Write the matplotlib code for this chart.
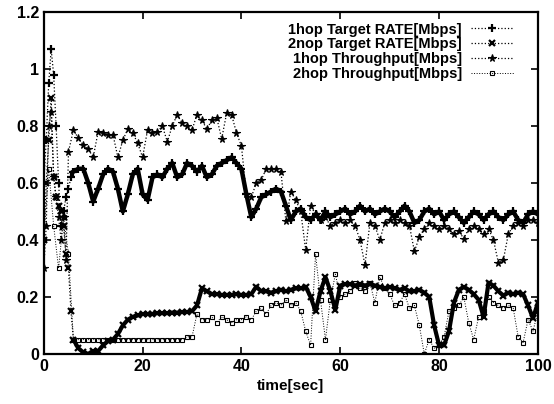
import matplotlib
matplotlib.use("Agg")
import matplotlib.pyplot as plt
from matplotlib.ticker import FuncFormatter

# ---------------- data ----------------
t_early = [0, 0.5, 1, 1.5, 2, 2.5, 3, 3.5, 4, 4.5, 5, 5.5]
t_main = list(range(6, 101))

hop1_target_t = t_early + t_main
hop1_target = [0.60, 0.75, 0.95, 1.07, 0.98, 0.80, 0.60, 0.45, 0.50, 0.55, 0.58, 0.62,
               0.64, 0.65, 0.65, 0.60, 0.535, 0.58, 0.63, 0.65, 0.64, 0.58,
               0.50, 0.56, 0.63, 0.65, 0.56, 0.54, 0.62, 0.63, 0.62, 0.65,
               0.67, 0.62, 0.63, 0.67, 0.66, 0.64, 0.66, 0.62, 0.63, 0.66,
               0.67, 0.68, 0.69, 0.67, 0.65, 0.56, 0.48, 0.51, 0.55, 0.56,
               0.57, 0.58, 0.57, 0.52, 0.47, 0.50, 0.51, 0.48, 0.47, 0.49,
               0.47, 0.50, 0.48, 0.49, 0.50, 0.51, 0.49, 0.50, 0.52, 0.50,
               0.51, 0.49, 0.50, 0.51, 0.50, 0.48, 0.50, 0.52, 0.50, 0.46,
               0.47, 0.50, 0.51, 0.49, 0.50, 0.47, 0.49, 0.50, 0.48, 0.46,
               0.48, 0.50, 0.49, 0.47, 0.49, 0.50, 0.48, 0.47, 0.49, 0.50,
               0.47, 0.46, 0.49, 0.50, 0.49]

hop2_target_t = t_early + t_main
hop2_target = [0.40, 0.60, 0.75, 0.90, 0.62, 0.55, 0.52, 0.50, 0.45, 0.35, 0.30, 0.15,
               0.05, 0.02, 0.005, 0.0, 0.01, 0.01, 0.03, 0.045, 0.05, 0.07,
               0.10, 0.12, 0.13, 0.135, 0.14, 0.14, 0.14, 0.143, 0.143, 0.143,
               0.145, 0.145, 0.147, 0.147, 0.15, 0.17, 0.23, 0.22, 0.21, 0.21,
               0.207, 0.207, 0.207, 0.21, 0.207, 0.207, 0.21, 0.236, 0.22, 0.22,
               0.215, 0.22, 0.225, 0.22, 0.225, 0.23, 0.23, 0.236, 0.20, 0.15,
               0.22, 0.27, 0.22, 0.155, 0.24, 0.245, 0.245, 0.24, 0.245, 0.24,
               0.245, 0.24, 0.235, 0.23, 0.235, 0.23, 0.225, 0.23, 0.22, 0.22,
               0.225, 0.215, 0.20, 0.10, 0.03, 0.03, 0.08, 0.18, 0.225, 0.235,
               0.225, 0.21, 0.19, 0.13, 0.25, 0.24, 0.22, 0.205, 0.215, 0.21,
               0.215, 0.21, 0.17, 0.125, 0.18]

hop1_thr_t = [0, 0.5, 1, 1.5, 2, 2.5, 3, 3.5, 4, 4.5] + list(range(5, 101))
hop1_thr = [0.30, 0.45, 0.80, 0.85, 0.62, 0.55, 0.48, 0.40, 0.48, 0.33,
            0.71, 0.786, 0.757, 0.733, 0.72, 0.69, 0.78, 0.776, 0.77, 0.77,
            0.69, 0.75, 0.79, 0.776, 0.74, 0.69, 0.786, 0.776, 0.78, 0.80,
            0.745, 0.80, 0.84, 0.81, 0.80, 0.786, 0.84, 0.82, 0.79, 0.82,
            0.83, 0.755, 0.845, 0.84, 0.776, 0.73, 0.56, 0.55, 0.60, 0.61,
            0.65, 0.65, 0.65, 0.64, 0.465, 0.57, 0.54, 0.50, 0.365, 0.52,
            0.49, 0.47, 0.48, 0.45, 0.46, 0.47, 0.46, 0.47, 0.45, 0.40,
            0.312, 0.46, 0.45, 0.40, 0.46, 0.47, 0.46, 0.47, 0.46, 0.45,
            0.36, 0.41, 0.44, 0.46, 0.45, 0.44, 0.45, 0.44, 0.42, 0.43,
            0.405, 0.44, 0.45, 0.44, 0.42, 0.44, 0.40, 0.32, 0.33, 0.42,
            0.45, 0.46, 0.45, 0.47, 0.47, 0.46]

hop2_thr_t = list(range(0, 101))
hop2_thr = [0.40, 0.65, 0.45, 0.30, 0.48, 0.35, 0.05, 0.05, 0.05, 0.05,
            0.05, 0.05, 0.05, 0.05, 0.05, 0.05, 0.05, 0.05, 0.05, 0.05,
            0.05, 0.05, 0.05, 0.05, 0.05, 0.05, 0.05, 0.05, 0.05, 0.06,
            0.06, 0.14, 0.12, 0.12, 0.13, 0.11, 0.13, 0.12, 0.11, 0.12,
            0.12, 0.13, 0.12, 0.15, 0.16, 0.14, 0.17, 0.18, 0.17, 0.19,
            0.17, 0.18, 0.15, 0.08, 0.03, 0.35, 0.19, 0.05, 0.19, 0.28,
            0.20, 0.21, 0.22, 0.25, 0.23, 0.22, 0.25, 0.18, 0.27, 0.23,
            0.21, 0.17, 0.18, 0.21, 0.16, 0.17, 0.10, 0.0, 0.05, 0.02,
            0.03, 0.06, 0.15, 0.16, 0.17, 0.20, 0.11, 0.05, 0.13, 0.15,
            0.20, 0.18, 0.17, 0.16, 0.17, 0.16, 0.06, 0.04, 0.12, 0.08,
            0.15]

labels = ["1hop Target RATE[Mbps]", "2nop Target RATE[Mbps]",
          "1hop Throughput[Mbps]", "2hop Throughput[Mbps]"]

# ---------------- plot ----------------
plt.rcParams['font.family'] = ['Liberation Sans', 'DejaVu Sans']
plt.rcParams['font.weight'] = 'bold'

fig = plt.figure(figsize=(5.54, 4.04), dpi=100)
ax = fig.add_axes([0.079, 0.124, 0.892, 0.846])

n0 = len(t_early)
# dense-looking bands (heavily overplotted samples in the original)
ax.plot(hop1_target_t[n0:], hop1_target[n0:], color='black', lw=3.2,
        solid_joinstyle='round', zorder=1)
ax.plot(hop2_target_t[n0:], hop2_target[n0:], color='black', lw=3.0,
        solid_joinstyle='round', zorder=1)

ax.plot(hop1_target_t, hop1_target, linestyle=':', color='black', lw=0.9,
        marker='+', ms=6, mew=1.6, label=labels[0])
ax.plot(hop2_target_t, hop2_target, linestyle=':', color='black', lw=0.9,
        marker='x', ms=4.5, mew=1.6, label=labels[1])
ax.plot(hop1_thr_t, hop1_thr, linestyle=':', color='black', lw=0.9,
        marker='*', ms=5.5, mew=0.8, label=labels[2])
ax.plot(hop2_thr_t, hop2_thr, linestyle=':', color='black', lw=0.7,
        marker='s', ms=3.5, mew=0.8, fillstyle='none', label=labels[3])

ax.set_xlim(0, 100)
ax.set_ylim(0, 1.2)
ax.set_xticks([0, 20, 40, 60, 80, 100])
ax.set_yticks([0, 0.2, 0.4, 0.6, 0.8, 1.0, 1.2])
ax.yaxis.set_major_formatter(FuncFormatter(lambda v, p: f"{v:g}"))
ax.tick_params(direction='in', length=5, width=1.2, top=True, right=True,
               labelsize=11.5)
for lab in ax.get_xticklabels() + ax.get_yticklabels():
    lab.set_fontweight('bold')
for s in ax.spines.values():
    s.set_linewidth(1.6)

ax.set_xlabel("time[sec]", fontsize=11, fontweight='bold', labelpad=4)

leg = ax.legend(loc='upper right', bbox_to_anchor=(0.97, 0.995), frameon=False,
                markerfirst=False, numpoints=1, handlelength=3.0,
                fontsize=10.5, labelspacing=0.05, handletextpad=0.6,
                borderaxespad=0.2)
for txt in leg.get_texts():
    txt.set_fontweight('bold')

fig.savefig("out.png", dpi=100)
